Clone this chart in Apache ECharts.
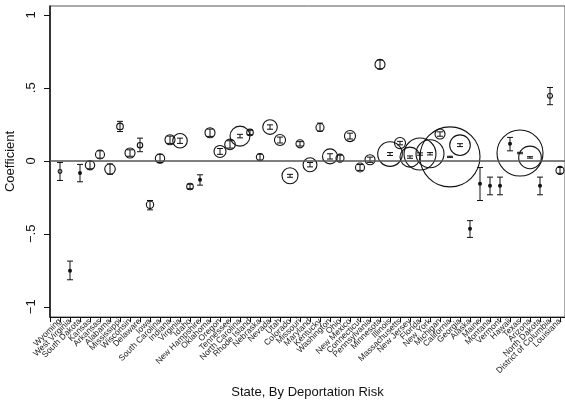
<!DOCTYPE html>
<html>
<head>
<meta charset="utf-8">
<script src="https://cdn.jsdelivr.net/npm/echarts@6/dist/echarts.min.js"></script>
<style>
html,body{margin:0;padding:0;background:#fff;}
#chart{width:565px;height:407px;}
</style>
</head>
<body>
<div id="chart"></div>
<script>
// states, ordered by deportation risk
var states = ['Wyoming','West Virginia','South Dakota','Kansas','Arkansas','Alabama','Mississippi','Wisconsin','Delaware','Iowa',
    'South Carolina','Indiana','Virginia','Idaho','New Hampshire','Oklahoma','Oregon','Tennessee','North Carolina','Rhode Island',
    'Nebraska','Nevada','Utah','Colorado','Missouri','Maryland','Kentucky','Washington','Ohio','New Mexico',
    'Connecticut','Pennsylvania','Minnesota','Illinois','Massachusetts','New Jersey','Florida','New York','Michigan','California',
    'Georgia','Alaska','Maine','Montana','Vermont','Hawaii','Texas','Arizona','North Dakota','District of Columbia','Louisiana'];
var coef = [-0.073,-0.753,-0.084,-0.030,0.043,-0.057,0.235,0.053,0.107,-0.301,
    0.016,0.144,0.137,-0.176,-0.130,0.192,0.064,0.112,0.169,0.194,
    0.025,0.231,0.142,-0.103,0.116,-0.027,0.228,0.030,0.018,0.169,
    -0.046,0.007,0.660,0.046,0.121,0.025,0.046,0.048,0.183,0.027,
    0.107,-0.466,-0.158,-0.171,-0.171,0.116,0.053,0.023,-0.171,0.445,-0.066];
var ciLow = [-0.135,-0.815,-0.144,-0.055,0.018,-0.092,0.200,0.031,0.062,-0.336,
    -0.012,0.119,0.119,-0.191,-0.167,0.167,0.044,0.087,0.157,0.179,
    0.005,0.216,0.122,-0.113,0.101,-0.042,0.203,0.012,-0.002,0.149,
    -0.066,-0.011,0.630,0.036,0.109,0.017,0.038,0.040,0.168,0.023,
    0.097,-0.525,-0.272,-0.233,-0.233,0.068,0.048,0.018,-0.233,0.384,-0.086];
var ciHigh = [-0.012,-0.687,-0.025,-0.005,0.068,-0.022,0.270,0.075,0.155,-0.272,
    0.044,0.169,0.155,-0.161,-0.096,0.217,0.084,0.137,0.181,0.209,
    0.045,0.246,0.162,-0.093,0.131,-0.012,0.258,0.048,0.038,0.189,
    -0.026,0.025,0.690,0.056,0.133,0.033,0.054,0.056,0.198,0.031,
    0.117,-0.410,-0.046,-0.112,-0.112,0.160,0.058,0.028,-0.112,0.502,-0.046];
// relative weight (0 = no weight, drawn as a dot)
var weight = [0.4,0,0,2.45,2.25,3.1,1.2,2.8,0.8,1.5,
    2.45,2.8,5.9,1.2,0,2.8,4.0,3.1,11.1,1.2,
    1.5,5.9,3.4,7.1,1.8,5.4,1.8,6.25,1.8,3.4,
    2.25,2.8,2.8,16.8,3.4,11.1,28.4,21.8,2.8,100,
    11.8,0,0,0,0,0,58.8,14.2,0,0.7,1.8];
var yTicks = [-1,-0.5,0,0.5,1];

var chart = echarts.init(document.getElementById('chart'));

var circles = [], dots = [], bars = [];
for (var i = 0; i < states.length; i++) {
    bars.push([i, ciHigh[i], ciLow[i]]);
    if (weight[i] > 0) circles.push([i, coef[i], weight[i]]);
    else dots.push([i, coef[i]]);
}

function yLabel(v) {
    if (v === 0) return '0';
    var s = String(Math.abs(v)).replace(/^0/, '');
    return (v < 0 ? '\u2212' : '') + s;
}

var font = 'Liberation Sans';

var option = {
    animation: false,
    grid: {left: 50, right: 0, top: 6, bottom: 90, show: true, borderColor: '#555', borderWidth: 1,
        containLabel: false, outerBoundsMode: 'none'},
    xAxis: {
        type: 'value', min: -1, max: 50.5, interval: 1,
        name: 'State, By Deportation Risk', nameLocation: 'middle', nameGap: 69,
        nameTextStyle: {fontFamily: font, fontSize: 13, color: '#111'},
        splitLine: {show: false},
        axisLine: {show: true, onZero: false, lineStyle: {color: '#111', width: 1.2}},
        axisTick: {show: true, length: 5, lineStyle: {color: '#111'}},
        axisLabel: {
            rotate: 45, fontSize: 8.5, margin: 3, color: '#222', fontFamily: font, showMinLabel: true, showMaxLabel: true,
            formatter: function (v) { return (Number.isInteger(v) && v >= 0 && v < states.length) ? states[v] : ''; }
        }
    },
    yAxis: {
        type: 'value', min: -1.07, max: 1.06,
        name: 'Coefficient', nameLocation: 'middle', nameGap: 31,
        nameTextStyle: {fontFamily: font, fontSize: 13, color: '#111'},
        splitLine: {show: false},
        axisLine: {show: true, onZero: false, lineStyle: {color: '#111', width: 1.5}},
        axisTick: {show: true, length: 6, customValues: yTicks, lineStyle: {color: '#111'}},
        axisLabel: {
            customValues: yTicks, rotate: 90, fontSize: 13, margin: 12, color: '#111', fontFamily: font,
            formatter: yLabel
        }
    },
    series: [
        {
            type: 'custom', z: 3,
            data: bars,
            renderItem: function (params, api) {
                var hi = api.coord([api.value(0), api.value(1)]);
                var lo = api.coord([api.value(0), api.value(2)]);
                var hw = 3;
                var st = {stroke: '#111', lineWidth: 1, fill: null};
                return {type: 'group', children: [
                    {type: 'line', shape: {x1: hi[0], y1: hi[1], x2: lo[0], y2: lo[1]}, style: st},
                    {type: 'line', shape: {x1: hi[0] - hw, y1: hi[1], x2: hi[0] + hw, y2: hi[1]}, style: st},
                    {type: 'line', shape: {x1: lo[0] - hw, y1: lo[1], x2: lo[0] + hw, y2: lo[1]}, style: st}
                ]};
            },
            markLine: {
                silent: true, symbol: 'none', label: {show: false},
                lineStyle: {color: '#555', width: 1.5, type: 'solid'},
                data: [{yAxis: 0}]
            }
        },
        {
            type: 'scatter', z: 4,
            data: circles,
            symbolSize: function (v) { return 6 * Math.sqrt(v[2]); },
            itemStyle: {color: 'rgba(0,0,0,0)', borderColor: '#111', borderWidth: 1.1, opacity: 1}
        },
        {
            type: 'scatter', z: 4,
            data: dots,
            symbolSize: 4,
            itemStyle: {color: '#111', opacity: 1}
        }
    ]
};
chart.setOption(option);
</script>
</body>
</html>
